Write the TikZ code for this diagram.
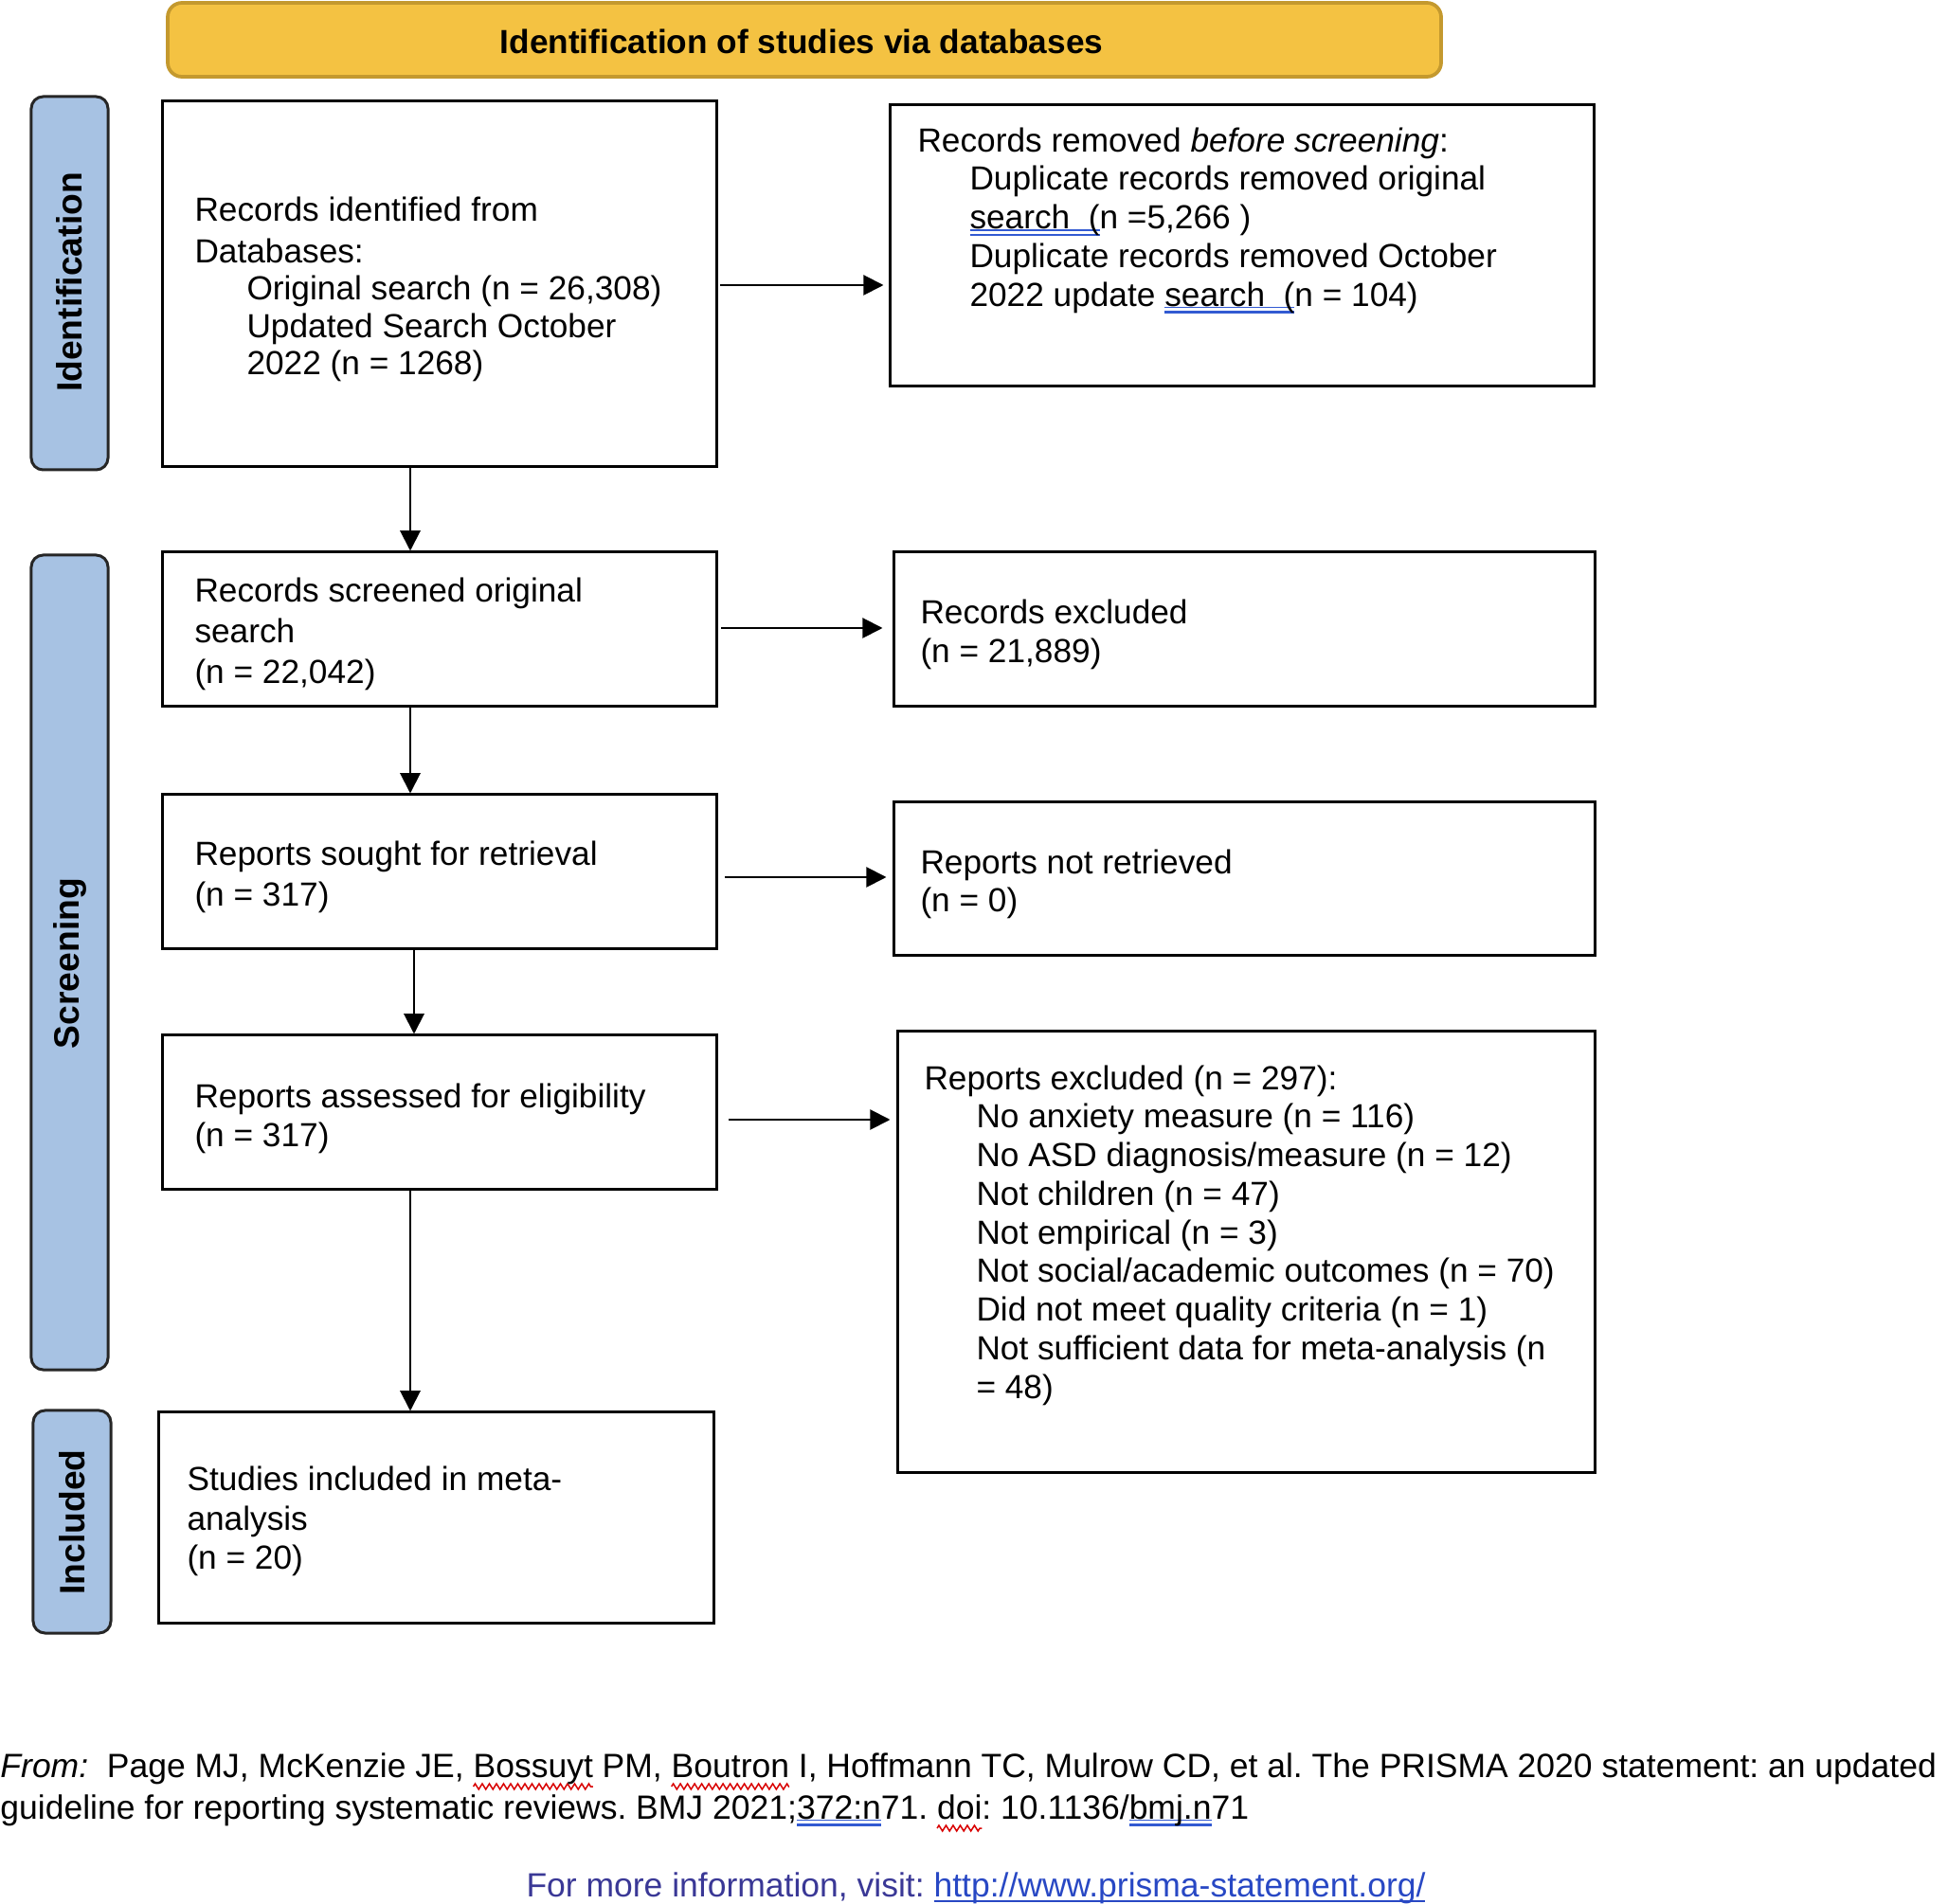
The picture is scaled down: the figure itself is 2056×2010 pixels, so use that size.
\documentclass[tikz,border=0pt]{standalone}
\usepackage{fontspec}
\setmainfont{Liberation Sans}
\usetikzlibrary{arrows.meta,decorations.pathmorphing}
\definecolor{bannerfill}{RGB}{244,194,66}
\definecolor{bannerdraw}{RGB}{196,153,46}
\definecolor{barfill}{RGB}{167,194,227}
\definecolor{ulblue}{RGB}{50,90,210}
\definecolor{infoblue}{RGB}{58,56,150}
\definecolor{linkblue}{RGB}{40,72,196}
\newlength\ulw
\newcommand{\bul}[1]{\settowidth{\ulw}{#1}\rlap{\color{ulblue}\rule[-0.8pt]{\ulw}{0.5pt}\hspace*{-\ulw}\rule[-3pt]{\ulw}{1pt}}#1}
\newcommand{\rsq}[1]{\settowidth{\ulw}{#1}\rlap{\tikz[baseline=0pt]{\useasboundingbox (0pt,0pt); \draw[overlay,red!85!black,line width=0.6pt,decorate,decoration={zigzag,amplitude=1.2pt,segment length=3pt}] (0pt,-4pt) -- (\ulw,-4pt);}}#1}
\frenchspacing
\begin{document}
\begin{tikzpicture}[x=0.4pt,y=-0.4pt,
  box/.style={draw=black,line width=1.2pt,inner sep=0pt},
  bar/.style={draw=black!85,fill=barfill,line width=1.2pt,rounded corners=5pt,inner sep=0pt},
  txt/.style={inner sep=0pt,anchor=north west,align=left,font=\fontsize{14.1}{16.3}\selectfont},
  txtw/.style={inner sep=0pt,anchor=north west,align=left,font=\fontsize{14.1}{17.2}\selectfont},
  arr/.style={-{Triangle[length=8.5pt,width=8.5pt]},line width=0.8pt},
  barlabel/.style={rotate=90,font=\fontsize{14.9}{16}\selectfont\bfseries,inner sep=0pt},
  foot/.style={anchor=base west,inner sep=0pt,font=\fontsize{14.2}{16}\selectfont}]
\useasboundingbox (0,0) rectangle (2056,2010);
% banner
\node[draw=bannerdraw,fill=bannerfill,line width=1.5pt,rounded corners=6pt,minimum width=537.6pt,minimum height=31.2pt,inner sep=0pt] (banner) at (849,42) {};
\node[font=\fontsize{14.1}{16}\selectfont\bfseries,inner sep=0pt] (bannertext) at (846,44) {Identification of studies via databases};
% side bars
\node[bar,minimum width=32.4pt,minimum height=157.6pt] (idbar) at (73.5,299) {};
\node[barlabel] (idlabel) at (73.5,298) {Identification};
\node[bar,minimum width=32.4pt,minimum height=344pt] (scbar) at (73.5,1016) {};
\node[barlabel] (sclabel) at (73.5,1017) {Screening};
\node[bar,minimum width=32.8pt,minimum height=94pt] (inbar) at (76,1606.5) {};
\node[barlabel] (inlabel) at (76,1607) {Included};
% boxes
\node[box,minimum width=233.6pt,minimum height=154.4pt] (ident) at (464,300) {};
\node[box,minimum width=297.2pt,minimum height=118.8pt] (removed) at (1310.5,259.5) {};
\node[box,minimum width=233.6pt,minimum height=65.2pt] (screened) at (464,664.5) {};
\node[box,minimum width=296pt,minimum height=65.2pt] (recexcl) at (1313,664.5) {};
\node[box,minimum width=233.6pt,minimum height=65.2pt] (sought) at (464,920.5) {};
\node[box,minimum width=296pt,minimum height=64.8pt] (notret) at (1313,928) {};
\node[box,minimum width=233.6pt,minimum height=65.2pt] (assessed) at (464,1174.5) {};
\node[box,minimum width=294.4pt,minimum height=186pt] (repexcl) at (1315,1321.5) {};
\node[box,minimum width=234pt,minimum height=88.8pt] (included) at (460.5,1602) {};
% texts
\node[txt,font=\fontsize{14.1}{15.8}\selectfont] (identtext) at (205,207.5) {Records identified from\\[1.6pt]Databases:\\\hspace*{22pt}Original search (n = 26,308)\\\hspace*{22pt}Updated Search October\\\hspace*{22pt}2022 (n = 1268)};
\node[txt] (removedtext) at (968,134) {Records removed \textit{before screening}:\\\hspace*{22pt}Duplicate records removed original\\\hspace*{22pt}\bul{search\ \ (}n =5,266 )\\\hspace*{22pt}Duplicate records removed October\\\hspace*{22pt}2022 update \bul{search\ \ (}n = 104)};
\node[txtw] (screenedtext) at (205,609.5) {Records screened original\\search\\(n = 22,042)};
\node[txt] (recexcltext) at (971,632.5) {Records excluded\\(n = 21,889)};
\node[txtw] (soughttext) at (205,887.5) {Reports sought for retrieval\\(n = 317)};
\node[txt] (notrettext) at (971,896) {Reports not retrieved\\(n = 0)};
\node[txt] (assessedtext) at (205,1143.5) {Reports assessed for eligibility\\(n = 317)};
\node[txt] (repexcltext) at (975,1124) {Reports excluded (n = 297):\\\hspace*{22pt}No anxiety measure (n = 116)\\\hspace*{22pt}No ASD diagnosis/measure (n = 12)\\\hspace*{22pt}Not children (n = 47)\\\hspace*{22pt}Not empirical (n = 3)\\\hspace*{22pt}Not social/academic outcomes (n = 70)\\\hspace*{22pt}Did not meet quality criteria (n = 1)\\\hspace*{22pt}Not sufficient data for meta-analysis (n\\\hspace*{22pt}= 48)};
\node[txt,font=\fontsize{14.1}{16.6}\selectfont] (includedtext) at (197,1547.5) {Studies included in meta-\\analysis\\(n = 20)};
% connectors
\coordinate (c1) at (433,0);
\coordinate (c2) at (437,0);
\coordinate (h1) at (0,301);
\coordinate (h2) at (0,663);
\coordinate (h3) at (0,926);
\coordinate (h4) at (0,1182);
\draw[arr] (ident.south -| c1) -- (screened.north -| c1);
\draw[arr] (screened.south -| c1) -- (sought.north -| c1);
\draw[arr] (sought.south -| c2) -- (assessed.north -| c2);
\draw[arr] (assessed.south -| c1) -- (included.north -| c1);
\draw[arr,shorten <=1pt,shorten >=2pt] (ident.east |- h1) -- (removed.west |- h1);
\draw[arr,shorten <=1.5pt,shorten >=4pt] (screened.east |- h2) -- (recexcl.west |- h2);
\draw[arr,shorten <=3pt,shorten >=2.4pt] (sought.east |- h3) -- (notret.west |- h3);
\draw[arr,shorten <=4.5pt,shorten >=2.4pt] (assessed.east |- h4) -- (repexcl.west |- h4);
% footer
\node[foot] (foot1) at (0,1876) {\textit{From:}\ \ Page MJ, McKenzie JE, \rsq{Bossuyt} PM, \rsq{Boutron} I, Hoffmann TC, Mulrow CD, et al. The PRISMA 2020 statement: an updated};
\node[foot] (foot2) at (0,1920) {guideline for reporting systematic reviews. BMJ 2021;\bul{372:n}71. \rsq{doi}: 10.1136/\bul{bmj.n}71};
\node[foot] (foot3) at (555,2002) {\textcolor{infoblue}{For more information, visit:} \textcolor{linkblue}{\settowidth{\ulw}{http://www.prisma-statement.org/}\rlap{\rule[-2.4pt]{\ulw}{0.9pt}}http://www.prisma-statement.org/}};
\end{tikzpicture}
\end{document}
